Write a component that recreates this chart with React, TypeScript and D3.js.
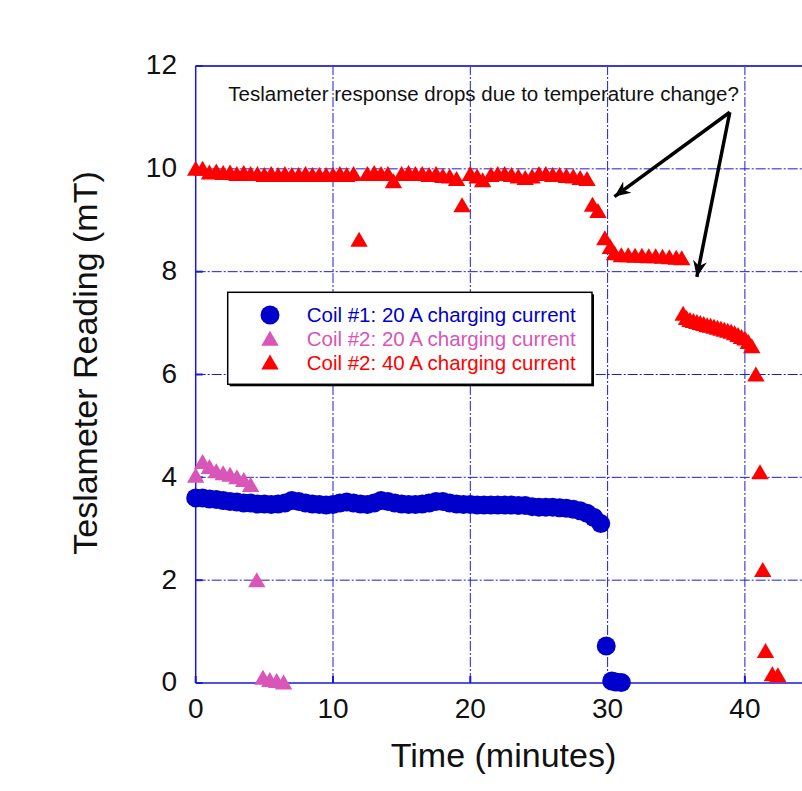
import * as d3 from "d3"

// Teslameter readings, [time in minutes, reading in mT]
const coil1At20A: [number, number][] = [
  [0, 3.6], [0.5, 3.6], [1, 3.58], [1.5, 3.57], [2, 3.55], [2.5, 3.53], [3, 3.52], [3.5, 3.5],
  [4, 3.5], [4.5, 3.48], [5, 3.48], [5.5, 3.47], [6, 3.48], [6.5, 3.5], [7, 3.55], [7.5, 3.53],
  [8, 3.5], [8.5, 3.48], [9, 3.47], [9.5, 3.46], [10, 3.47], [10.5, 3.5], [11, 3.52], [11.5, 3.5],
  [12, 3.48], [12.5, 3.47], [13, 3.5], [13.5, 3.55], [14, 3.53], [14.5, 3.5], [15, 3.48], [15.5, 3.47],
  [16, 3.47], [16.5, 3.48], [17, 3.5], [17.5, 3.53], [18, 3.53], [18.5, 3.5], [19, 3.48], [19.5, 3.47],
  [20, 3.47], [20.5, 3.46], [21, 3.46], [21.5, 3.46], [22, 3.46], [22.5, 3.46], [23, 3.46], [23.5, 3.45],
  [24, 3.45], [24.5, 3.43], [25, 3.42], [25.5, 3.42], [26, 3.42], [26.5, 3.41], [27, 3.4], [27.5, 3.38],
  [28, 3.35], [28.5, 3.3], [29, 3.22], [29.5, 3.1], [29.9, 0.72], [30.3, 0.04], [30.6, 0.02], [31, 0.01],
]

const coil2At20A: [number, number][] = [
  [0, 4.03], [0.5, 4.3], [1, 4.2], [1.5, 4.12], [2, 4.08], [2.5, 4.05], [3, 4.0], [3.5, 3.95],
  [4, 3.85], [4.45, 2.0], [4.9, 0.1], [5.4, 0.06], [5.9, 0.04], [6.4, 0.01],
]

const coil2At40A: [number, number][] = [
  [0, 10.0], [0.5, 10.0], [1, 9.93], [1.5, 9.95], [2, 9.92], [2.5, 9.93], [3, 9.9], [3.5, 9.92],
  [4, 9.9], [4.5, 9.9], [5, 9.88], [5.5, 9.9], [6, 9.88], [6.5, 9.9], [7, 9.88], [7.5, 9.88],
  [8, 9.9], [8.5, 9.88], [9, 9.88], [9.5, 9.88], [10, 9.88], [10.5, 9.9], [11, 9.88], [11.5, 9.9],
  [11.9, 8.62], [12.5, 9.9], [13, 9.92], [13.5, 9.9], [14, 9.9], [14.4, 9.76], [15, 9.9], [15.5, 9.92],
  [16, 9.9], [16.5, 9.9], [17, 9.88], [17.5, 9.9], [18, 9.86], [18.5, 9.85], [19, 9.8], [19.4, 9.29],
  [20, 9.9], [20.5, 9.85], [20.9, 9.78], [21.5, 9.88], [22, 9.9], [22.5, 9.9], [23, 9.88], [23.5, 9.85],
  [24, 9.82], [24.5, 9.85], [25, 9.9], [25.5, 9.9], [26, 9.88], [26.5, 9.88], [27, 9.86], [27.5, 9.85],
  [28, 9.82], [28.5, 9.8], [28.9, 9.3], [29.3, 9.18], [29.8, 8.65], [30.2, 8.48], [30.5, 8.36], [31, 8.32],
  [31.5, 8.32], [32, 8.31], [32.5, 8.31], [33, 8.3], [33.5, 8.3], [34, 8.29], [34.5, 8.28], [35, 8.27],
  [35.4, 8.26], [35.5, 7.18], [35.75, 7.1], [36, 7.06], [36.25, 7.04], [36.5, 7.02], [36.75, 7.0], [37, 6.98],
  [37.25, 6.96], [37.5, 6.95], [37.75, 6.93], [38, 6.91], [38.25, 6.89], [38.5, 6.87], [38.75, 6.85], [39, 6.83],
  [39.25, 6.8], [39.5, 6.77], [39.75, 6.73], [40, 6.7], [40.25, 6.63], [40.5, 6.55], [40.8, 6.0], [41.1, 4.1],
  [41.3, 2.2], [41.5, 0.62], [42, 0.17], [42.4, 0.15],
]

const xTicks = [0, 10, 20, 30, 40]
const yTicks = [0, 2, 4, 6, 8, 10, 12]
const legendLabels = [
  "Coil #1: 20 A charging current",
  "Coil #2: 20 A charging current",
  "Coil #2: 40 A charging current",
]
const annotationText = "Teslameter response drops due to temperature change?"
// arrow from the note to the two drops, in data units
const arrowStart: [number, number] = [38.9, 11.1]
const arrowTips: [number, number][] = [[30.5, 9.46], [36.5, 7.9]]

const W = 802
const H = 791
const FONT = "'Liberation Sans', Arial, Helvetica, sans-serif"
const BLUE = "#0000cc"
const PINK = "#d955b8"
const RED = "#ff0000"
const GRID = "#1c1ce0"

// plot runs past the right edge of the picture
const x = d3.scaleLinear().domain([0, 50]).range([195.7, 195.7 + 5 * 137.3])
const y = d3.scaleLinear().domain([0, 12]).range([683, 66])

function tri(cx: number, cy: number) {
  return `M${cx},${cy - 8}L${cx + 8.7},${cy + 7}L${cx - 8.7},${cy + 7}Z`
}

export default function App() {
  const [x0, x1] = x.range()
  const [yBottom, yTop] = y.range()
  const lx = 227.7
  const ly = 292.3
  const lw = 364.3
  const lh = 92

  return (
    <div>
      <style>{"body{margin:0;overflow:hidden}"}</style>
      <svg width={W} height={H} style={{ display: "block", background: "#fff" }} fontFamily={FONT}>
        <defs>
          <marker id="head" viewBox="-16 -8 18 16" refX="0" refY="0" markerWidth="18" markerHeight="16"
            markerUnits="userSpaceOnUse" orient="auto">
            <path d="M0,0L-16,-7L-11,0L-16,7Z" fill="#000" />
          </marker>
        </defs>

        {/* grid */}
        {yTicks.filter((t) => t > 0 && t < 12).map((t) => (
          <line key={"gy" + t} x1={x0} x2={x1} y1={y(t)} y2={y(t)} stroke={GRID} strokeWidth={1}
            strokeDasharray="10,2,2,2" />
        ))}
        {xTicks.filter((t) => t > 0).map((t) => (
          <line key={"gx" + t} x1={x(t)} x2={x(t)} y1={yBottom} y2={yTop} stroke={GRID} strokeWidth={1}
            strokeDasharray="10,2,2,2" />
        ))}

        {/* frame */}
        <line x1={x0} x2={x1} y1={yTop} y2={yTop} stroke="#3a3ad8" strokeWidth={2} />
        <line x1={x0} x2={x1} y1={yBottom} y2={yBottom} stroke="#1a1ad8" strokeWidth={1.5} />
        <line x1={x0} x2={x0} y1={yBottom} y2={yTop} stroke="#1a1ad8" strokeWidth={1.5} />
        {yTicks.map((t) => (
          <line key={"ty" + t} x1={x0} x2={x0 + 7} y1={y(t)} y2={y(t)} stroke="#1a1ad8" strokeWidth={2} />
        ))}
        {xTicks.map((t) => (
          <line key={"tx" + t} x1={x(t)} x2={x(t)} y1={yBottom} y2={yBottom - 7} stroke="#1a1ad8" strokeWidth={2} />
        ))}

        {/* tick labels */}
        {yTicks.map((t) => (
          <text key={"ly" + t} x={177} y={y(t)} dy="0.3em" textAnchor="end" fontSize={28} fill="#111">
            {t}
          </text>
        ))}
        {xTicks.map((t) => (
          <text key={"lx" + t} x={x(t)} y={718} textAnchor="middle" fontSize={28} fill="#111">
            {t}
          </text>
        ))}

        {/* axis titles */}
        <text x={503.5} y={766.7} textAnchor="middle" fontSize={34} fill="#111">
          Time (minutes)
        </text>
        <text transform="translate(96.7,363) rotate(-90)" textAnchor="middle" fontSize={34} fill="#111">
          Teslameter Reading (mT)
        </text>

        {/* series */}
        {coil1At20A.map(([t, v], i) => (
          <circle key={"c1" + i} cx={x(t)} cy={y(v)} r={9.5} fill={BLUE} />
        ))}
        {coil2At20A.map(([t, v], i) => (
          <path key={"c2" + i} d={tri(x(t), y(v))} fill={PINK} />
        ))}
        {coil2At40A.map(([t, v], i) => (
          <path key={"c3" + i} d={tri(x(t), y(v))} fill={RED} />
        ))}

        {/* annotation */}
        <text x={228.3} y={101} fontSize={20.5} fill="#111">
          {annotationText}
        </text>
        {arrowTips.map(([t, v], i) => (
          <line key={"ar" + i} x1={x(arrowStart[0])} y1={y(arrowStart[1])} x2={x(t)} y2={y(v)}
            stroke="#000" strokeWidth={3.5} markerEnd="url(#head)" />
        ))}

        {/* legend */}
        <rect x={lx + 2} y={ly + 2} width={lw} height={lh} fill="#000" />
        <rect x={lx} y={ly} width={lw} height={lh} fill="#fff" stroke="#000" strokeWidth={1.5} />
        {legendLabels.map((label, i) => {
          const cy = 315 + i * 23.8
          const color = [BLUE, PINK, RED][i]
          return (
            <g key={"lg" + i}>
              {i === 0 ? (
                <circle cx={270} cy={cy} r={9.5} fill={color} />
              ) : (
                <path d={tri(270, cy)} fill={color} />
              )}
              <text x={306.7} y={cy} dy="0.36em" fontSize={20.5} fill={color}>
                {label}
              </text>
            </g>
          )
        })}
      </svg>
    </div>
  )
}
